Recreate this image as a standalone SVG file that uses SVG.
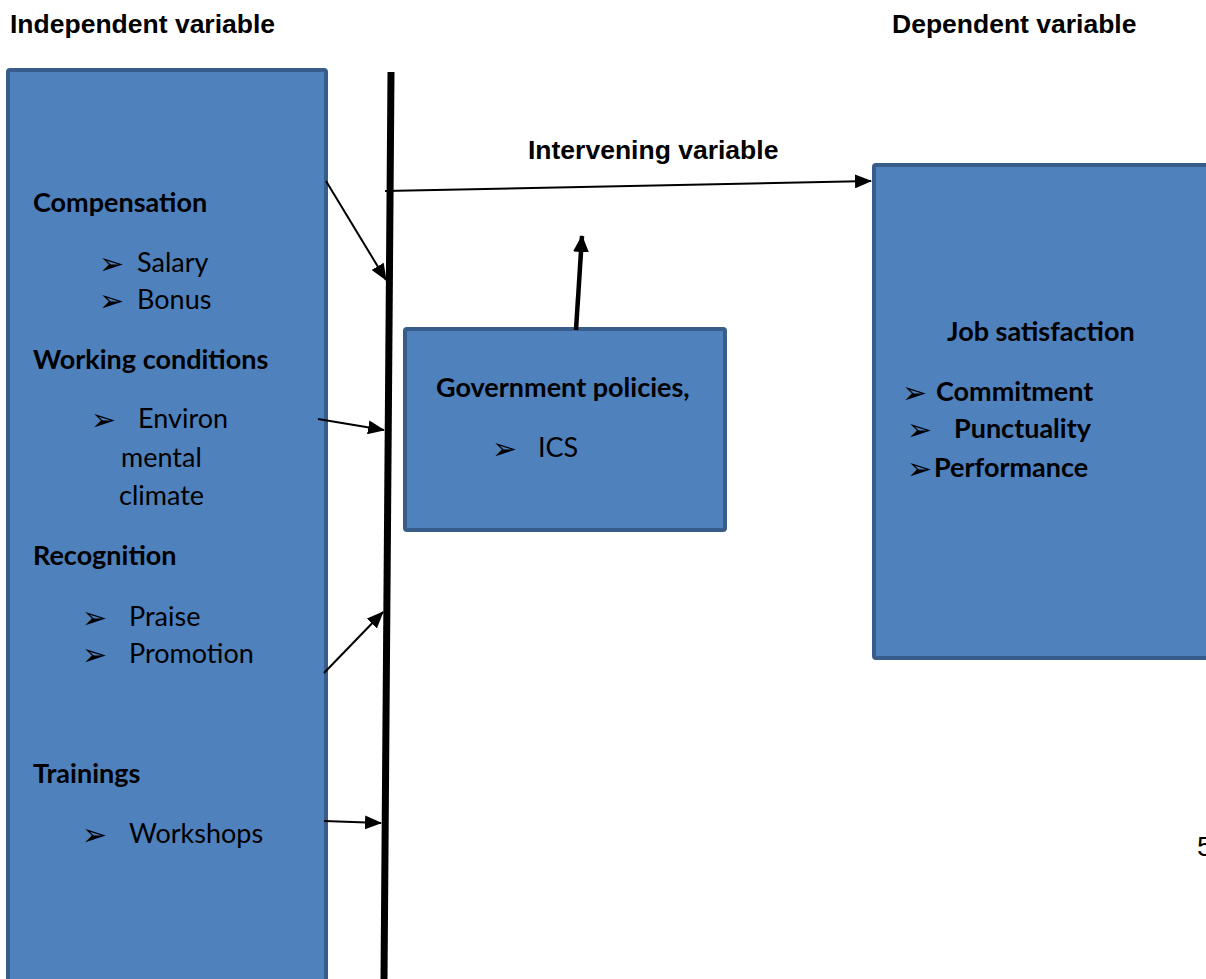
<svg xmlns="http://www.w3.org/2000/svg" width="1206" height="979" viewBox="0 0 1206 979">
<style>
.box{fill:#4f81bd;stroke:#385d8a;stroke-width:4}
.h{font-family:"Liberation Sans",Arial,sans-serif;font-weight:bold;font-size:26.5px;fill:#000}
.b{font-family:Lato,"Open Sans",sans-serif;font-weight:bold;font-size:27px;fill:#000}
.r{font-family:Lato,"Open Sans",sans-serif;font-size:27px;fill:#000}
.bl{font-family:"DejaVu Sans",sans-serif;font-size:30px;fill:#000}
.c{stroke:#000;stroke-width:2;fill:none}
</style>
<defs>
<marker id="ah" markerUnits="userSpaceOnUse" markerWidth="18" markerHeight="14" refX="16" refY="7" orient="auto">
<path d="M0,0 L17,7 L0,14 Z" fill="#000"/>
</marker>
<marker id="ah2" markerUnits="userSpaceOnUse" markerWidth="18" markerHeight="16" refX="16" refY="8" orient="auto">
<path d="M0,0 L17,8 L0,16 Z" fill="#000"/>
</marker>
</defs>

<text class="h" x="10" y="33">Independent variable</text>
<text class="h" x="892" y="33">Dependent variable</text>
<text class="h" x="528" y="159">Intervening variable</text>
<text x="1197" y="856" font-family="Liberation Sans,Arial,sans-serif" font-size="28">5</text>

<g id="independent">
<rect class="box" x="8" y="70" width="318" height="920" rx="2"/>
<text class="b" x="33" y="212">Compensation</text>
<text class="bl" x="99" y="274">➢</text><text class="r" x="137" y="272">Salary</text>
<text class="bl" x="99" y="311">➢</text><text class="r" x="137" y="309">Bonus</text>
<text class="b" x="33" y="369">Working conditions</text>
<text class="bl" x="91" y="430">➢</text><text class="r" x="138" y="428">Environ</text>
<text class="r" x="121" y="467">mental</text>
<text class="r" x="119" y="505">climate</text>
<text class="b" x="33" y="565">Recognition</text>
<text class="bl" x="82" y="628">➢</text><text class="r" x="129" y="626">Praise</text>
<text class="bl" x="82" y="665">➢</text><text class="r" x="129" y="663">Promotion</text>
<text class="b" x="33" y="783">Trainings</text>
<text class="bl" x="82" y="845">➢</text><text class="r" x="129" y="843">Workshops</text>
</g>

<g id="government">
<rect class="box" x="405" y="329" width="320" height="201" rx="2"/>
<text class="b" x="436" y="397">Government policies,</text>
<text class="bl" x="492" y="459">➢</text><text class="r" x="538" y="457">ICS</text>
</g>

<g id="job">
<rect class="box" x="874" y="165" width="345" height="493" rx="2"/>
<text class="b" x="947" y="341">Job satisfaction</text>
<text class="bl" x="902" y="403">➢</text><text class="b" x="936" y="401">Commitment</text>
<text class="bl" x="907" y="440">➢</text><text class="b" x="954" y="438">Punctuality</text>
<text class="bl" x="907" y="479">➢</text><text class="b" x="934" y="477">Performance</text>
</g>

<g id="connectors">
<line x1="391" y1="72" x2="384" y2="979" stroke="#000" stroke-width="7"/>
<line class="c" x1="385" y1="191" x2="871" y2="181" marker-end="url(#ah)"/>
<line class="c" x1="326" y1="181" x2="386" y2="280" marker-end="url(#ah)"/>
<line class="c" x1="318" y1="419" x2="384" y2="430" marker-end="url(#ah)"/>
<line class="c" x1="324" y1="673" x2="383" y2="612" marker-end="url(#ah)"/>
<line class="c" x1="324" y1="821" x2="381" y2="823" marker-end="url(#ah)"/>
<line x1="576" y1="330" x2="582" y2="236" stroke="#000" stroke-width="4.5" marker-end="url(#ah2)"/>
</g>
</svg>
